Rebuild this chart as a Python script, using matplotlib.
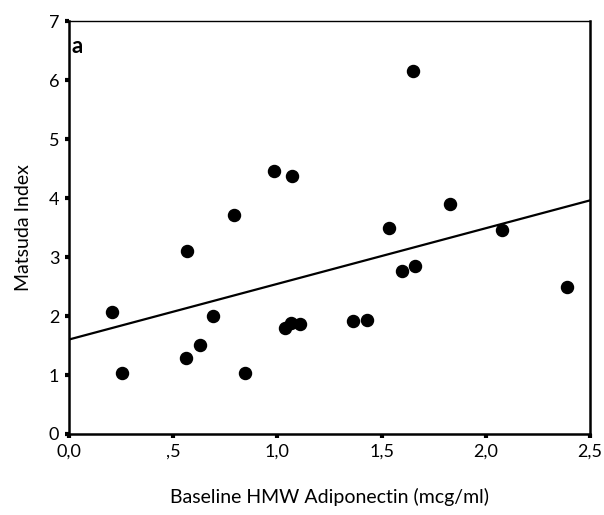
import numpy as np
import matplotlib
matplotlib.use('Agg')
from matplotlib import pyplot as plt

# baseline HMW adiponectin (mcg/ml) vs Matsuda index
adiponectin = [0.205, 0.253, 0.568, 0.561, 0.630, 0.690, 0.790, 0.845, 0.985, 1.069, 1.036,
               1.064, 1.108, 1.361, 1.428, 1.537, 1.596, 1.660, 1.652, 1.827, 2.076, 2.391]
matsuda = [2.07, 1.04, 3.10, 1.29, 1.51, 2.00, 3.72, 1.04, 4.46, 4.38, 1.79,
           1.89, 1.86, 1.92, 1.93, 3.50, 2.77, 2.85, 6.16, 3.90, 3.46, 2.50]

x_ticks = [0.0, 0.5, 1.0, 1.5, 2.0, 2.5]
x_labels = ['0,0', ',5', '1,0', '1,5', '2,0', '2,5']
y_ticks = [0, 1, 2, 3, 4, 5, 6, 7]

plt.rcParams['font.family'] = ['Lato', 'DejaVu Sans']

fig = plt.figure(figsize=(6.04, 5.15), dpi=100)
ax = fig.add_axes([0.1142, 0.1573, 0.8626, 0.8017])

ax.scatter(adiponectin, matsuda, s=75, color='black', zorder=3)

# linear fit
slope, intercept = np.polyfit(adiponectin, matsuda, 1)
xs = np.array([0.0, 2.5])
ax.plot(xs, intercept + slope * xs, color='black', lw=1.6)

ax.set_xlim(0, 2.5)
ax.set_ylim(0, 7)
ax.set_xticks(x_ticks)
ax.set_xticklabels(x_labels)
ax.set_yticks(y_ticks)
ax.tick_params(direction='out', length=3, width=3, labelsize=13, pad=4)

for side in ['left', 'bottom', 'right']:
    ax.spines[side].set_linewidth(1.8)
ax.spines['top'].set_linewidth(1.0)

ax.set_xlabel('Baseline HMW Adiponectin (mcg/ml)', fontsize=14, labelpad=20)
ax.set_ylabel('Matsuda Index', fontsize=14, labelpad=12)
ax.text(0.012, 6.75, 'a', fontsize=16, fontweight='bold', va='top', ha='left')

fig.savefig('out.png', dpi=100)
